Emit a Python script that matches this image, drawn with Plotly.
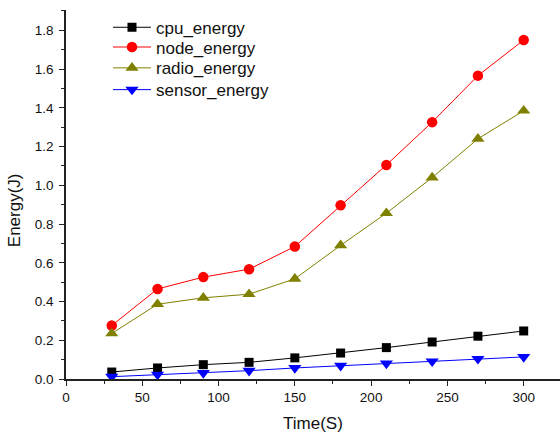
import plotly.graph_objects as go

time_s = [30, 60, 90, 120, 150, 180, 210, 240, 270, 300]
cpu_energy = [0.036, 0.057, 0.074, 0.086, 0.109, 0.134, 0.162, 0.191, 0.221, 0.248]
node_energy = [0.276, 0.465, 0.526, 0.567, 0.684, 0.897, 1.105, 1.326, 1.566, 1.750]
radio_energy = [0.235, 0.386, 0.419, 0.438, 0.517, 0.690, 0.856, 1.040, 1.240, 1.385]
sensor_energy = [0.012, 0.023, 0.031, 0.043, 0.057, 0.069, 0.080, 0.091, 0.104, 0.114]

series = [
    ("cpu_energy", cpu_energy, "#000000", "square", 9, "legend"),
    ("node_energy", node_energy, "#FF0000", "circle", 10.5, "legend2"),
    ("radio_energy", radio_energy, "#808000", "triangle-up", 11.5, "legend3"),
    ("sensor_energy", sensor_energy, "#0000FF", "triangle-down", 11.5, "legend4"),
]

FONT = "Liberation Sans, Arial, sans-serif"

fig = go.Figure()
for name, vals, color, sym, sz, lg in series:
    fig.add_trace(go.Scatter(
        x=time_s, y=vals, name=name, mode="lines+markers", legend=lg,
        line=dict(color=color, width=1),
        marker=dict(symbol=sym, size=sz, color=color, line=dict(width=0)),
    ))

axis_common = dict(
    showline=True, linecolor="#222222", linewidth=1.5,
    ticks="outside", ticklen=5, tickwidth=1.2, tickcolor="#222222",
    showgrid=False, zeroline=False, mirror=False,
    tickfont=dict(family=FONT, size=13.5, color="#111111"),
)

fig.update_xaxes(
    range=[0, 323.8], dtick=50, tick0=0,
    minor=dict(ticks="outside", ticklen=3, dtick=25, tickcolor="#222222", tickwidth=1.2),
    **axis_common,
)
fig.update_yaxes(
    range=[0, 1.905], dtick=0.2, tick0=0, tickformat=".1f",
    minor=dict(ticks="outside", ticklen=3, dtick=0.1, tickcolor="#222222", tickwidth=1.2),
    ticklabelstandoff=3,
    **axis_common,
)

fig.add_annotation(text="Time(S)", xref="paper", yref="paper", x=0.5, y=0.0, yshift=-44,
                   showarrow=False, xanchor="center", yanchor="middle",
                   font=dict(family=FONT, size=17, color="#111111"))
fig.add_annotation(text="Energy(J)", xref="paper", yref="paper", x=0, xshift=-52, y=0.4575,
                   showarrow=False, textangle=-90, xanchor="center", yanchor="middle",
                   font=dict(family=FONT, size=17, color="#111111"))

legend_rows = {"legend": 0.952, "legend2": 0.8985, "legend3": 0.842, "legend4": 0.783}
layout_legends = {}
for key, yy in legend_rows.items():
    layout_legends[key] = dict(
        x=0.085, y=yy, xanchor="left", yanchor="middle",
        bgcolor="rgba(0,0,0,0)", font=dict(family=FONT, size=17, color="#111111"),
        itemwidth=38,
    )

fig.update_layout(
    width=560, height=436,
    margin=dict(l=66, r=0, t=10, b=57),
    paper_bgcolor="white", plot_bgcolor="white",
    showlegend=True,
    **layout_legends,
)

fig.write_html("out.html", config={"displayModeBar": False},
               post_script="document.body.style.margin='0';")
